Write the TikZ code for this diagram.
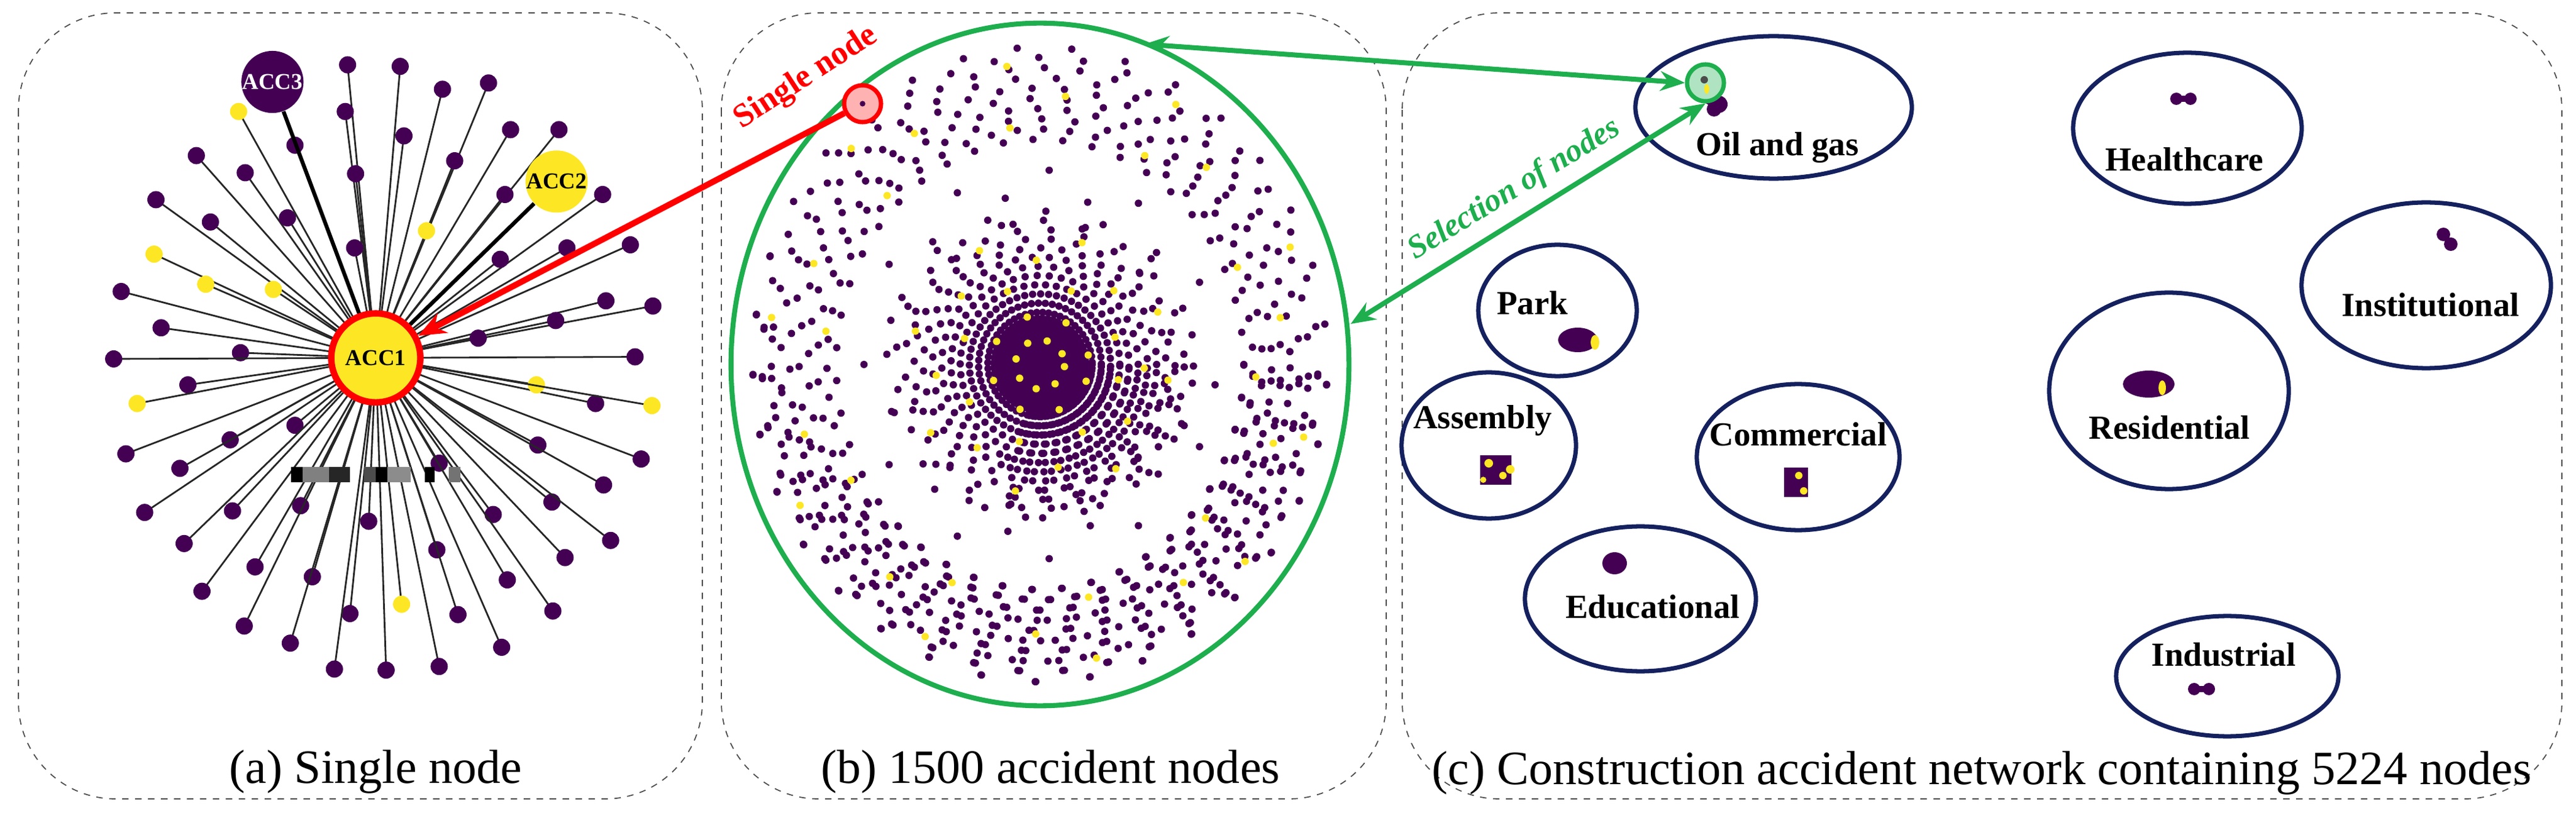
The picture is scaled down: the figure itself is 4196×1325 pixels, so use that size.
\documentclass[tikz,border=0pt]{standalone}
\usepackage{fontspec}
\setmainfont{Liberation Serif}
\usetikzlibrary{arrows.meta,shapes.geometric}
\definecolor{vpur}{HTML}{440154}
\definecolor{vyel}{HTML}{FDE725}
\definecolor{navy}{HTML}{14215E}
\definecolor{grn}{HTML}{1EAE4E}
\begin{document}
\begin{tikzpicture}[x=0.01cm,y=-0.01cm,
  panel/.style={draw=black!70,dashed,line width=0.5pt,rounded corners=45},
  captxt/.style={font=\fontsize{22.2}{24}\selectfont},
  pd/.style={circle,fill=vpur,inner sep=0,minimum size=0.28cm},
  yd/.style={circle,fill=vyel,inner sep=0,minimum size=0.28cm},
  bd/.style={circle,fill=vpur,inner sep=0,minimum size=0.12cm},
  byd/.style={circle,fill=vyel,inner sep=0,minimum size=0.12cm},
  spoke/.style={draw=black!85,line width=0.8pt},
  sect/.style={draw=navy,line width=2pt},
  slab/.style={font=\bfseries\fontsize{15.6}{17}\selectfont},
  garrow/.style={draw=grn,line width=2.3pt,{Stealth[length=0.4cm,width=0.32cm]}-{Stealth[length=0.4cm,width=0.32cm]}}]
\useasboundingbox (0,0) rectangle (4196,1325);
% panels
\draw[panel] (30,21) rectangle (1144,1302);
\draw[panel] (1175,21) rectangle (2258,1302);
\draw[panel] (2284,21) rectangle (4173,1302);
\node[captxt] (capa) at (612,1258) {(a) Single node};
\node[captxt] (capb) at (1711,1258) {(b) 1500 accident nodes};
\node[captxt] (capc) at (3228,1260) {(c) Construction accident network containing 5224 nodes};
% panel a
\begin{scope}[xscale=0.7651,yscale=0.8453]
\coordinate (ctr) at (800,690);
\foreach \p in {(740,125),(852,128),(942,172),(1040,160),(735,215),(860,262),(1087,250),(1190,250),(628,280),(418,300),(522,333),(757,335),(968,310),(1075,375),(1283,375),(332,385),(448,428),(612,420),(1207,478),(1342,472),(755,478),(1065,500),(258,562),(1290,580),(1390,590),(1183,618),(343,632),(1018,652),(512,680),(242,692),(1352,688),(400,742),(1268,778),(628,820),(490,848),(1145,858),(268,875),(1365,885),(383,903),(935,893),(1285,935),(640,975),(495,985),(1175,968),(1050,992),(308,988),(785,1005),(392,1048),(1300,1042),(930,1060),(1203,1075),(543,1093),(665,1112),(1080,1118),(430,1140),(1177,1178),(745,1183),(975,1185),(520,1207),(618,1240),(1068,1248),(712,1290),(822,1292),(935,1285)}
  {\draw[spoke] (ctr) -- \p; \node[pd] at \p {};}
\foreach \p in {(508,215),(908,445),(328,490),(438,548),(582,558),(1142,742),(292,778),(1388,782),(855,1165)}
  {\draw[spoke] (ctr) -- \p; \node[yd] at \p {};}
% artefact bar
\foreach \a/\b/\c in {620/645/black,645/700/black!50,700/745/black!85,775/800/black!70,800/825/black,825/875/black!45,905/925/black,955/980/black!55}
  \fill[\c] (\a,900) rectangle (\b,930);
\node[circle,fill=vpur,inner sep=0,minimum size=1.0cm,text=white,font=\bfseries\fontsize{10.5}{11}\selectfont] (acc3) at (580,158) {ACC3};
\node[circle,fill=vyel,inner sep=0,minimum size=1.0cm,font=\bfseries\fontsize{10.5}{11}\selectfont] (acc2) at (1185,350) {ACC2};
\draw[black,line width=1.8pt] (ctr) -- (acc3);
\draw[black,line width=1.8pt] (ctr) -- (acc2);
\node[circle,fill=vyel,draw=red,line width=3pt,inner sep=0,minimum size=1.45cm,font=\bfseries\fontsize{10.5}{11}\selectfont] (acc1) at (ctr) {ACC1};
\end{scope}
% panel b
\node[draw=grn,line width=2.3pt,ellipse,minimum width=10.06cm,minimum height=11.12cm,inner sep=0] (big) at (1694,594) {};
\begin{scope}[shift={(1694,594)}]
\foreach \r/\o/\s in {0.66/0/6,0.69/2.3/5,0.72/4.1/6,0.75/1.2/5,0.78/3.4/6,0.81/0.7/5,0.84/2.9/6,0.87/4.6/5,0.90/1.8/6,0.93/3.7/7}{
  \foreach \a in {0,\s,...,359}{\node[bd] at (\a+\o+0.6*\r*\a:{503*\r} and {556*\r}) {};}}
\foreach \r/\o in {0.42/10,0.5/40,0.57/25}{
  \foreach \a in {0,31,...,359}{\node[bd] at (\a+\o:{503*\r} and {556*\r}) {};}}
\foreach \r/\o in {0.7/3,0.79/17,0.88/41}{
  \foreach \a in {0,37,...,359}{\node[byd] at (\a+\o:{503*\r} and {556*\r}) {};}}
\fill[vpur] (0,0) circle (80);
\foreach \r/\o/\s in {85/0/5,100/2/5,115/4/5,130/1/6,145/3/6,160/5/7,175/2/7,190/0/8,205/6/9,220/3/11,235/1/13,250/7/17}{
  \foreach \a in {0,\s,...,359}{\node[bd] at (\a+\o+0.3*\a:\r) {};}}
\foreach \r/\o in {40/5,80/20,130/11,170/33,210/7}{
  \foreach \a in {0,47,...,359}{\node[byd] at (\a+\o:\r) {};}}
\end{scope}
\node[circle,draw=red,fill=red!30,line width=2pt,minimum size=0.6cm,inner sep=0] (single) at (1405,169) {};
\fill[vpur] (single.center) circle (4.6);
\node[text=red,rotate=33,font=\bfseries\fontsize{15.4}{16}\selectfont] (singlelab) at (1313,127) {Single node};
\draw[red,line width=2.8pt,-{Stealth[length=0.45cm,width=0.36cm]}] (single) -- (acc1);
% panel c
\node[sect,ellipse,minimum width=4.5cm,minimum height=2.32cm] (oil) at (2889,175) {};
\node[slab] (oillab) at (2895,241) {Oil and gas};
\node[sect,ellipse,minimum width=3.72cm,minimum height=2.46cm] (hc) at (3563,209) {};
\node[slab] (hclab) at (3558,260) {Healthcare};
\node[sect,ellipse,minimum width=4.06cm,minimum height=2.7cm] (inst) at (3952,465) {};
\node[slab] (instlab) at (3959,497) {Institutional};
\node[sect,ellipse,minimum width=3.9cm,minimum height=3.2cm] (res) at (3533,637) {};
\node[slab] (reslab) at (3534,697) {Residential};
\node[sect,ellipse,minimum width=3.62cm,minimum height=1.96cm] (ind) at (3628,1102) {};
\node[slab] (indlab) at (3622,1067) {Industrial};
\node[sect,ellipse,minimum width=2.58cm,minimum height=2.14cm] (park) at (2537,506) {};
\node[slab] (parklab) at (2496,494) {Park};
\node[sect,ellipse,minimum width=2.84cm,minimum height=2.38cm] (asm) at (2425,726) {};
\node[slab] (asmlab) at (2415,685) {Assembly};
\node[sect,ellipse,minimum width=3.3cm,minimum height=2.38cm] (com) at (2929,745) {};
\node[slab] (comlab) at (2929,708) {Commercial};
\node[sect,ellipse,minimum width=3.76cm,minimum height=2.36cm] (edu) at (2672,976) {};
\node[slab] (edulab) at (2692,989) {Educational};
% clusters
\fill[vpur] (2788,158) circle (14) (2800,170) circle (14) (2792,178) circle (12);
\fill[vpur] (3545,161) circle (10) (3568,161) circle (10); \draw[vpur,line width=3pt] (3545,161)--(3568,161);
\fill[vpur] (3980,382) circle (11) (3992,398) circle (11);
\fill[vpur] (3500,626) ellipse (42 and 22); \fill[vyel] (3522,632) ellipse (6 and 12);
\fill[vpur] (3574,1123) circle (10) (3598,1123) circle (10); \draw[vpur,line width=3pt] (3574,1123)--(3598,1123);
\fill[vpur] (2570,554) ellipse (32 and 20); \fill[vyel] (2598,558) ellipse (7 and 12);
\fill[vpur] (2411,742) rectangle (2462,790); \fill[vyel] (2425,755) circle (7) (2448,775) circle (6) (2460,765) circle (7) (2416,782) circle (5);
\fill[vpur] (2906,762) rectangle (2945,810); \fill[vyel] (2930,775) circle (6) (2938,800) circle (6);
\fill[vpur] (2630,918) ellipse (20 and 18);
\node[circle,draw=grn,fill=grn!35,line width=2pt,minimum size=0.6cm,inner sep=0] (sel) at (2778,135) {};
\fill[black!70] (2776,130) circle (6); \fill[vyel] (2780,145) ellipse (4 and 8);
\coordinate (btop) at (1864,72);
\coordinate (bright) at (2200,528);
\draw[garrow] (btop) -- (sel.west);
\draw[garrow] (bright) -- (sel.south);
\node[text=grn,rotate=31.6,font=\bfseries\itshape\fontsize{15}{16}\selectfont] (sellab) at (2467,309) {Selection of nodes};
\end{tikzpicture}
\end{document}
